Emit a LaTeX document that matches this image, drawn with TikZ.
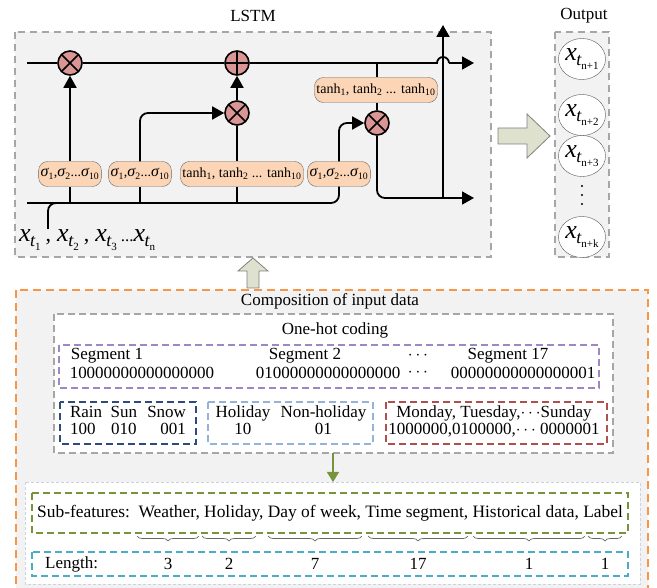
\documentclass[tikz,border=0pt]{standalone}
\usepackage{fontspec}
\setmainfont{Liberation Serif}
\usetikzlibrary{arrows.meta,positioning,shapes.geometric,decorations.pathreplacing}

\definecolor{panelgray}{HTML}{F2F2F2}
\definecolor{dashgray}{HTML}{A6A6A6}
\definecolor{gatefill}{HTML}{FBD5B5}
\definecolor{opfill}{HTML}{D99694}
\definecolor{arrfill}{HTML}{DFE1CF}
\definecolor{orangedash}{HTML}{F79646}
\definecolor{segpurple}{HTML}{9E88C2}
\definecolor{weathernavy}{HTML}{2F4B7C}
\definecolor{holblue}{HTML}{95B3D7}
\definecolor{weekred}{HTML}{B0504D}
\definecolor{subgreen}{HTML}{77933C}
\definecolor{lenteal}{HTML}{4BACC6}
\definecolor{outerline}{HTML}{C9D3E3}

% x_{t_k} as it is set in the figure
\newcommand{\xt}[1]{{\fontsize{26}{26}\selectfont\itshape x}\kern-0.5pt\raisebox{-5pt}{\fontsize{18}{18}\selectfont\itshape t}\raisebox{-9pt}{\fontsize{11}{11}\selectfont #1}}
\newcommand{\xcomma}{\hspace{5pt}{\fontsize{22}{22}\selectfont,}\hspace{6pt}}
\newcommand{\sig}[1]{{\fontsize{16}{16}\selectfont\itshape σ}\textsubscript{#1}}
\newcommand{\tnh}[1]{tanh\textsubscript{#1}}

\begin{document}
\begin{tikzpicture}[x=1pt,y=-1pt,
  every node/.style={font=\fontsize{17}{17}\selectfont, inner sep=1pt},
  flow/.style={line width=1.8pt},
  >={Triangle[length=12pt,width=13pt]},
  panel/.style={draw=dashgray, dashed, dash pattern=on 7pt off 5pt, line width=1.8pt, fill=panelgray},
  subbox/.style={dashed, dash pattern=on 7pt off 4pt, line width=1.2pt}]
  \tikzstyle{gate}=[draw=gray!80!black, fill=gatefill, rounded corners=9pt, minimum height=25pt, inner xsep=2pt, font=\fontsize{14}{14}\selectfont]
  \tikzstyle{op}=[circle, draw, line width=1.6pt, fill=opfill, minimum size=24pt, inner sep=0pt]
  \tikzstyle{mul}=[op, path picture={\draw[line width=1.6pt] (path picture bounding box.north west) -- (path picture bounding box.south east) (path picture bounding box.north east) -- (path picture bounding box.south west);}]
  \tikzstyle{add}=[op, path picture={\draw[line width=1.6pt] (path picture bounding box.north) -- (path picture bounding box.south) (path picture bounding box.west) -- (path picture bounding box.east);}]
  \tikzstyle{outc}=[ellipse, draw=gray!70!black, fill=white, minimum width=46pt, minimum height=41pt, inner sep=0pt]

  \useasboundingbox (0,0) rectangle (657,588);

  % LSTM and output panels
  \draw[panel] (15,32) rectangle (491,257);
  \draw[panel] (555,32) rectangle (609,257);
  \node (lstmlbl) at (253,16) {LSTM};
  \node (outlbl) at (584,16) {Output};

  \coordinate (cin) at (27,63);
  \coordinate (hopl) at (437,63);
  \coordinate (cout) at (474,63);
  \coordinate (hin) at (27,203);
  \coordinate (hout) at (474,198);
  \coordinate (vbase) at (443,198);
  \coordinate (vtop) at (443,25);
  \coordinate (xinp) at (48,229);

  \node[mul] (fmul) at (70,63) {};
  \node[add] (cadd) at (237,63) {};
  \node[mul] (imul) at (237,113) {};
  \node[mul] (omul) at (377,123) {};

  \node[gate] (fg) at (70,174) {\sig{1},\sig{2}...\sig{10}};
  \node[gate] (ig) at (140,174) {\sig{1},\sig{2}...\sig{10}};
  \node[gate] (cg) at (242,174) {\tnh{1}, \tnh{2} ... \tnh{10}};
  \node[gate] (og) at (339,174) {\sig{1},\sig{2}...\sig{10}};
  \node[gate] (ct) at (376,90) {\tnh{1}, \tnh{2} ... \tnh{10}};

  \node[anchor=west] (xs) at (18,240) {\xt{1}\xcomma\xt{2}\xcomma\xt{3}\hspace{4pt}...\xt{n}};

  % cell state
  \draw[flow] (cin) -- (fmul) -- (cadd) -- (hopl) arc[start angle=180, end angle=360, radius=6];
  \draw[flow,->] ([xshift=12pt]hopl) -- (cout);
  \draw[flow] (omul |- cin) -- (omul |- ct.north);
  \draw[flow] (omul |- ct.south) -- (omul);

  % hidden state and gates
  \draw[flow,rounded corners=8pt] (xinp) |- (fg |- hin);
  \draw[flow,rounded corners=8pt] (hin) -| (og.south);
  \draw[flow,->,rounded corners=8pt] (og.north) |- (omul.west);
  \draw[flow] (hin -| fg) -- (fg.south);
  \draw[flow,->] (fg.north) -- (fmul.south);
  \draw[flow] (hin -| ig) -- (ig.south);
  \draw[flow,->,rounded corners=8pt] (ig.north) |- (imul.west);
  \draw[flow] (hin -| imul) -- (imul |- cg.south);
  \draw[flow] (imul |- cg.north) -- (imul.south);
  \draw[flow,->] (imul) -- (cadd);
  \draw[flow,->,rounded corners=8pt] (omul) |- (hout);
  \draw[flow,->] (vbase) -- (vtop);

  % outputs
  \node[outc] (o1) at (582,59) {\xt{n+1}};
  \node[outc] (o2) [below=56pt of o1.center, anchor=center] {\xt{n+2}};
  \node[outc] (o3) [below=41pt of o2.center, anchor=center] {\xt{n+3}};
  \node[outc] (o4) [below=81pt of o3.center, anchor=center] {\xt{n+k}};
  \foreach \y in {186,195,204}
    \fill (582,\y) circle[radius=1.1pt];

  % block arrows
  \draw[draw=gray, fill=arrfill, line width=0.8pt] (498,128) -- (527,128) -- (527,114) -- (550,136) -- (527,158) -- (527,144) -- (498,144) -- cycle;
  \draw[draw=gray, fill=arrfill, line width=0.8pt] (247,288) -- (247,271) -- (238,271) -- (253,258) -- (268,271) -- (259,271) -- (259,288) -- cycle;

  % input data
  \draw[orangedash, dashed, dash pattern=on 8pt off 5pt, line width=1.8pt, fill=panelgray] (16,290) rectangle (648,600);
  \node (complbl) at (330,301) {Composition of input data};
  \draw[dashgray, subbox, fill=white] (54,314) rectangle (613,453);
  \node (ohlbl) at (335,330) {One-hot coding};

  \draw[segpurple, subbox] (59,345) rectangle (599,388);
  \node (s1) at (107,356) {Segment 1};
  \node (n1) at (142,373) {10000000000000000};
  \node (s2) at (305,356) {Segment 2};
  \node (n2) at (328,373) {01000000000000000};
  \node (d1) at (418,356) {$\cdots$};
  \node (d2) at (418,373) {$\cdots$};
  \node (s17) at (508,356) {Segment 17};
  \node (n17) at (523,373) {00000000000000001};

  \draw[weathernavy, subbox] (60,402) rectangle (196,444);
  \node (wth) at (128,423) {\begin{tabular}{@{}l@{\hspace{0.5em}}c@{\hspace{0.6em}}r@{}}Rain & Sun & Snow\\100 & 010 & 001\end{tabular}};
  \draw[holblue, subbox] (208,402) rectangle (373,444);
  \node (hol) at (291,423) {\begin{tabular}{@{}c@{\hspace{0.6em}}c@{}}Holiday & Non-holiday\\10 & 01\end{tabular}};
  \draw[weekred, subbox] (386,402) rectangle (607,444);
  \node (wk) at (494,423) {\begin{tabular}{@{}c@{}}Monday, Tuesday,$\cdots$Sunday\\1000000,0100000,$\cdots$ 0000001\end{tabular}};

  \coordinate (ohbot) at (333,453);
  \coordinate (subtop) at (333,482);
  \draw[subgreen, line width=1.5pt, -{Triangle[length=10pt,width=12pt]}] (ohbot) -- (subtop);

  \draw[outerline, densely dashed, line width=0.8pt, fill=white] (25,482) rectangle (640,584);
  \draw[subgreen, subbox] (32,493) rectangle (628,533);
  \node[anchor=west, font=\fontsize{17.4}{17.4}\selectfont] (subf) at (36,513) {Sub-features:\hspace{0.5em}Weather, Holiday, Day of week, Time segment, Historical data, Label};
  \draw[lenteal, subbox] (32,552) rectangle (628,576);
  \node[anchor=west] (lenlbl) at (44,564) {Length:};
  \foreach \a/\b/\n [count=\k] in {137/199/3, 202/256/2, 268/362/7, 368/468/17, 473/585/1, 588/622/1} {
    \draw[gray!80!black, line width=0.7pt, decorate, decoration={brace, mirror, amplitude=5pt}] (\a,536) -- (\b,536);
    \node (len\k) at ({(\a+\b)/2},564) {\n};
  }
\end{tikzpicture}
\end{document}
